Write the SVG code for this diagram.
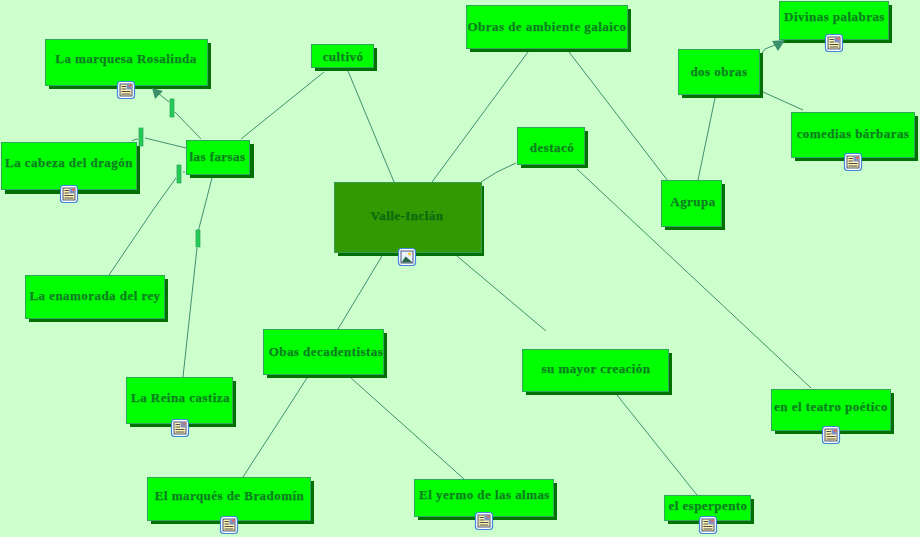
<svg xmlns="http://www.w3.org/2000/svg" width="920" height="537" viewBox="0 0 920 537">
<style>
.s{fill:#007000}
.b{fill:#00ff00;stroke:#2ea858;stroke-width:1}
.m{fill:#339900;stroke:#3c9a58;stroke-width:1}
text{font-family:"Liberation Serif","Times New Roman",serif;font-weight:bold;font-size:13px;letter-spacing:.45px;fill:#0b8020;stroke:#0b8020;stroke-width:.25;text-anchor:middle}
.c path{fill:none;stroke:#3f9070;stroke-width:1}
.c path.a{fill:#3a8f68;stroke:none}
.h{fill:#22cc55;stroke:#2e9e57;stroke-width:.7}
</style>
<defs>
<g id="doc">
<rect x="-8.500" y="-8.500" width="17" height="17" rx="3" fill="#fff" stroke="#3f86d8" stroke-width="1.200"/>
<rect x="-6" y="-6" width="12" height="12" fill="#fff4b8" stroke="#1a2a5a" stroke-width=".8"/>
<path d="M-4.500-3.500H0M-4.500-1H0M-4.500 1.500H4.500M-4.500 4H4.500" stroke="#222" stroke-width=".8"/>
<rect x="0.500" y="-5.500" width="5" height="5" fill="#7a8fc8"/>
<rect x="3" y="-5.500" width="2.500" height="2.500" fill="#d86a6a"/>
</g>
<g id="pic">
<rect x="-8.500" y="-8.500" width="17" height="17" rx="3" fill="#fff" stroke="#3f86d8" stroke-width="1.200"/>
<rect x="-6" y="-6" width="12" height="12" fill="#eaf2fb" stroke="#1a2a5a" stroke-width=".8"/>
<circle cx="2.500" cy="-3" r="1.800" fill="#f0d060"/>
<path d="M-5.500 5.500L-1.500-.5L1 1.500L5.500 5.500Z" fill="#2a6a48"/>
</g>
</defs>
<rect width="920" height="537" fill="#ccffcc"/>
<g id="n-marquesa"><rect class="s" x="49" y="43" width="162" height="46"/><rect class="b" x="45.500" y="39.500" width="162" height="46"/><text x="126" y="63">La marquesa Rosalinda</text><use href="#doc" x="126" y="90"/></g>
<g id="n-cultivo"><rect class="s" x="315" y="48" width="62" height="23"/><rect class="b" x="311.500" y="44.500" width="62" height="23"/><text x="343" y="61">cultivó</text></g>
<g id="n-ambiente"><rect class="s" x="470" y="9" width="161" height="43"/><rect class="b" x="466.500" y="5.500" width="161" height="43"/><text x="547" y="31">Obras de ambiente galaico</text></g>
<g id="n-divinas"><rect class="s" x="783" y="5" width="109" height="38"/><rect class="b" x="779.500" y="1.500" width="109" height="38"/><text x="834.500" y="21">Divinas palabras</text><use href="#doc" x="834" y="43"/></g>
<g id="n-dosobras"><rect class="s" x="682" y="53" width="81" height="45"/><rect class="b" x="678.500" y="49.500" width="81" height="45"/><text x="719" y="76">dos obras</text></g>
<g id="n-comedias"><rect class="s" x="795" y="116" width="123" height="45"/><rect class="b" x="791.500" y="112.500" width="123" height="45"/><text x="853" y="138">comedias bárbaras</text><use href="#doc" x="853" y="162"/></g>
<g id="n-farsas"><rect class="s" x="190" y="144" width="64" height="34"/><rect class="b" x="186.500" y="140.500" width="63" height="34"/><text x="217.500" y="161">las farsas</text></g>
<g id="n-cabeza"><rect class="s" x="5" y="146" width="135" height="48"/><rect class="b" x="1.500" y="142.500" width="135" height="47"/><text x="69" y="167">La cabeza del dragón</text><use href="#doc" x="69" y="194"/></g>
<g id="n-destaco"><rect class="s" x="521" y="131" width="67" height="37"/><rect class="b" x="517.500" y="127.500" width="67" height="37"/><text x="552" y="152">destacó</text></g>
<g id="n-valle"><rect class="s" x="338" y="186" width="146" height="70"/><rect class="m" x="334.500" y="182.500" width="147" height="70"/><text x="407" y="220" style="fill:#0a6a12;stroke:#0a6a12">Valle-Inclán</text><use href="#pic" x="407" y="257"/></g>
<g id="n-agrupa"><rect class="s" x="665" y="184" width="60" height="46"/><rect class="b" x="661.500" y="180.500" width="60" height="46"/><text x="693" y="206">Agrupa</text></g>
<g id="n-enamorada"><rect class="s" x="29" y="279" width="139" height="43"/><rect class="b" x="25.500" y="275.500" width="139" height="43"/><text x="95" y="300">La enamorada del rey</text></g>
<g id="n-obas"><rect class="s" x="267" y="333" width="120" height="45"/><rect class="b" x="263.500" y="329.500" width="120" height="45"/><text x="326" y="356">Obas decadentistas</text></g>
<g id="n-mayor"><rect class="s" x="526" y="353" width="146" height="42"/><rect class="b" x="522.500" y="349.500" width="146" height="42"/><text x="596" y="373">su mayor creación</text></g>
<g id="n-reina"><rect class="s" x="130" y="381" width="106" height="46"/><rect class="b" x="126.500" y="377.500" width="106" height="46"/><text x="180.500" y="402">La Reina castiza</text><use href="#doc" x="180" y="428"/></g>
<g id="n-teatro"><rect class="s" x="775" y="393" width="119" height="41"/><rect class="b" x="771.500" y="389.500" width="119" height="41"/><text x="831" y="411">en el teatro poético</text><use href="#doc" x="831" y="435"/></g>
<g id="n-marques"><rect class="s" x="151" y="481" width="163" height="43"/><rect class="b" x="147.500" y="477.500" width="163" height="43"/><text x="229.500" y="500">El marqués de Bradomín</text><use href="#doc" x="229" y="525"/></g>
<g id="n-yermo"><rect class="s" x="418" y="483" width="139" height="37"/><rect class="b" x="414.500" y="479.500" width="139" height="37"/><text x="484.500" y="499">El yermo de las almas</text><use href="#doc" x="484" y="521"/></g>
<g id="n-esperpento"><rect class="s" x="668" y="499" width="86" height="25"/><rect class="b" x="664.500" y="495.500" width="86" height="25"/><text x="708" y="510">el esperpento</text><use href="#doc" x="708" y="525"/></g>
<g id="connectors" class="c">
<path d="M241 139L324 72"/>
<path d="M348 71L394 182"/>
<path d="M528 52L432 182"/>
<path d="M569 52L668 181"/>
<path d="M516 163L497 172L481 182"/>
<path d="M715 98L698 180"/>
<path d="M763 92L803 110"/>
<path d="M762 53L765 49L775 45"/>
<path d="M577 169L811 388"/>
<path d="M457 256L546 331"/>
<path d="M617 395L697 495"/>
<path d="M382 256L338 329"/>
<path d="M307 378L243 477"/>
<path d="M351 378L464 479"/>
<path d="M201 139L175 112"/>
<path d="M169 102L158 93"/>
<path d="M186 148L145 138"/>
<path d="M132 141Q135 139 138 139"/>
<path d="M185 172L183 172"/>
<path d="M176 178L153 210L109 275"/>
<path d="M212 178L198 232"/>
<path d="M197 248L183 377"/>
<path class="a" d="M152 88L163 91L155 99Z"/>
<path class="a" d="M772 41L785 40L778 51Z"/>
<rect class="h" x="170" y="99" width="4" height="18"/>
<rect class="h" x="139" y="128" width="4" height="18"/>
<rect class="h" x="177" y="165" width="4" height="18"/>
<rect class="h" x="196" y="230" width="4" height="17"/>
</g>
</svg>
